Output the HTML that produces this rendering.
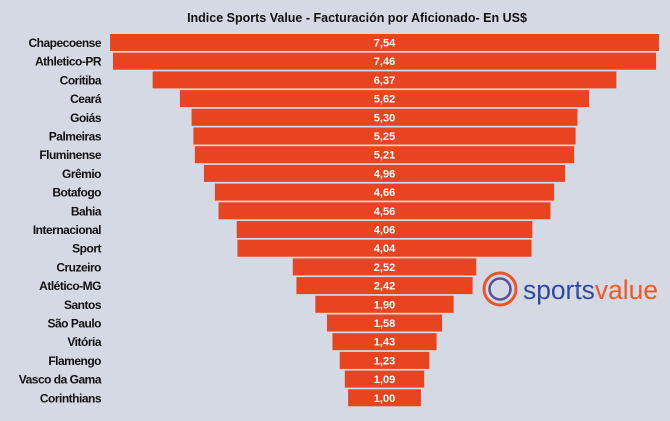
<!DOCTYPE html>
<html><head><meta charset="utf-8"><style>
body{margin:0;width:670px;height:416px;background:#d5d9e3;font-family:"Liberation Sans",sans-serif;overflow:hidden}
</style></head><body>
<svg width="670" height="416" xmlns="http://www.w3.org/2000/svg">
<text x="357" y="22" text-anchor="middle" font-size="12.5" font-weight="bold" fill="#111">Indice Sports Value -  Facturación por Aficionado- En US$</text>
<g id="bars"></g>
<g>
<circle cx="500" cy="289" r="16" fill="none" stroke="#e8572a" stroke-width="3"/>
<circle cx="500" cy="289" r="10.5" fill="none" stroke="#5a4fa0" stroke-width="2.5"/>
<text x="523" y="299" font-size="27" fill="#2e4a9e" textLength="135" lengthAdjust="spacingAndGlyphs">sports<tspan fill="#ef5a24">value</tspan></text>
</g>
</svg>
<script>
const teams=["Chapecoense","Athletico-PR","Coritiba","Ceará","Goiás","Palmeiras","Fluminense","Grêmio","Botafogo","Bahia","Internacional","Sport","Cruzeiro","Atlético-MG","Santos","São Paulo","Vitória","Flamengo","Vasco da Gama","Corinthians"];
const values=[7.54,7.46,6.37,5.62,5.30,5.25,5.21,4.96,4.66,4.56,4.06,4.04,2.52,2.42,1.90,1.58,1.43,1.23,1.09,1.00];
const cx=384.5, k=72.8, top0=34, pitch=18.7, bh=17;
const g=document.getElementById('bars');
const NS="http://www.w3.org/2000/svg";
teams.forEach((t,i)=>{
 const w=values[i]*k, y=top0+i*pitch;
 const r=document.createElementNS(NS,'rect');
 
 
 r.setAttribute('x',cx-w/2);r.setAttribute('y',y);r.setAttribute('width',w);r.setAttribute('height',bh);r.setAttribute('fill','#e8441f');
 g.appendChild(r);
 const v=document.createElementNS(NS,'text');
 
 
 v.setAttribute('x',cx);v.setAttribute('y',y+12.5);v.setAttribute('text-anchor','middle');v.setAttribute('font-size','11');v.setAttribute('font-weight','bold');v.setAttribute('fill','#fff');
 v.textContent=values[i].toFixed(2).replace('.',',');
 g.appendChild(v);
 const l=document.createElementNS(NS,'text');
 
 
 l.setAttribute('x',101);l.setAttribute('y',y+13);l.setAttribute('text-anchor','end');l.setAttribute('font-size','12');l.setAttribute('font-weight','bold');l.setAttribute('letter-spacing','-0.5');l.setAttribute('fill','#111');
 l.textContent=t;
 g.appendChild(l);
});
</script>
</body></html>
